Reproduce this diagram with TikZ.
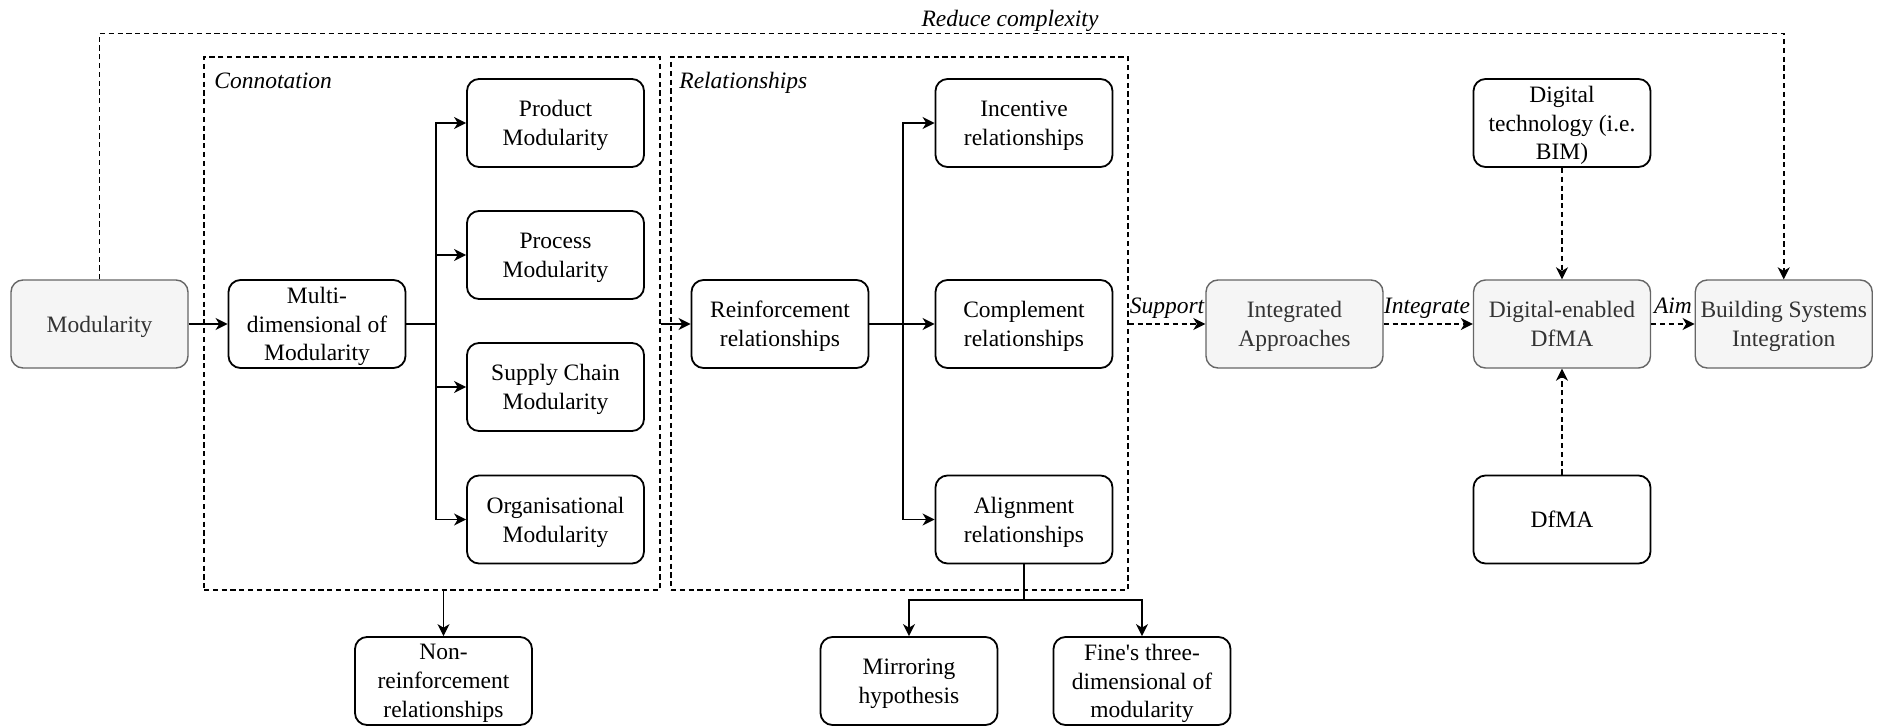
\documentclass[tikz,border=0pt]{standalone}
\usepackage{fontspec}
\setmainfont{Liberation Serif}[Ligatures=TeXOff]
\usetikzlibrary{arrows.meta}
\definecolor{edgegray}{HTML}{666666}
\definecolor{fillgray}{HTML}{F5F5F5}
\definecolor{textgray}{HTML}{333333}

\begin{document}
\begin{tikzpicture}[x=0.5pt,y=-0.5pt,
  font=\rmfamily\fontsize{11.75}{14.4}\selectfont,
  box/.style={draw=black, line width=0.9pt, rounded corners=6pt, align=center,
    minimum width=88.5pt, minimum height=44pt, inner sep=1pt, text depth=0pt},
  graybox/.style={box, draw=edgegray, fill=fillgray, text=textgray, line width=0.7pt},
  group/.style={draw=black, line width=0.7pt, dash pattern=on 2.6pt off 1.8pt,
    minimum height=266.5pt, inner sep=0pt},
  link/.style={draw, line width=0.9pt, -{Stealth[length=6pt,width=6pt,inset=1.8pt]}},
  thinlink/.style={link, line width=0.55pt},
  dlink/.style={link, line width=0.8pt, dash pattern=on 2.6pt off 1.8pt},
  plain/.style={draw, line width=0.9pt},
  tag/.style={font=\rmfamily\fontsize{11.75}{14.4}\selectfont\itshape, inner sep=0pt}
]
\useasboundingbox (0,0) rectangle (1881,728);

% dashed groups
\node[group, minimum width=228pt]   (conn) at (432,323.5) {};
\node[group, minimum width=228.5pt] (rel)  at (899.5,323.5) {};
\node[tag, anchor=base west] (connlbl) at (214,88) {Connotation};
\node[tag, anchor=base west] (rellbl)  at (679,88) {Relationships};

% main chain
\node[graybox] (mod)   at (99.5,324)  {Modularity};
\node[box]     (multi) at (317,324)   {Multi-\\dimensional of\\Modularity};
\node[box]     (prod)  at (555.5,123) {Product\\Modularity};
\node[box]     (proc)  at (555.5,255) {Process\\Modularity};
\node[box]     (supp)  at (555.5,387) {Supply Chain\\Modularity};
\node[box]     (org)   at (555.5,519.5) {Organisational\\Modularity};

\node[box] (reinf) at (780,324)    {Reinforcement\\relationships};
\node[box] (inc)   at (1024,123)   {Incentive\\relationships};
\node[box] (comp)  at (1024,324)   {Complement\\relationships};
\node[box] (align) at (1024,519.5) {Alignment\\relationships};

\node[box] (nonr) at (443.5,681) {Non-\\reinforcement\\relationships};
\node[box] (mirr) at (909,681)   {Mirroring\\hypothesis};
\node[box] (fine) at (1142,681)  {Fine's three-\\dimensional of\\modularity};

\node[graybox] (integ) at (1294.5,324) {Integrated\\Approaches};
\node[graybox] (de)    at (1562,324)   {Digital-enabled\\DfMA};
\node[graybox] (bsi)   at (1783.75,324) {Building Systems\\Integration};
\node[box]     (dig)   at (1562,123)   {Digital\\technology (i.e.\\BIM)};
\node[box]     (dfma)  at (1562,519.5) {DfMA};

% solid connectors
\draw[link] (mod) -- (multi);
\coordinate (mb) at (436,324);
\draw[plain] (multi.east) -- (mb);
\draw[link] (mb) |- (prod.west);
\draw[link] (mb) |- (proc.west);
\draw[link] (mb) |- (supp.west);
\draw[link] (mb) |- (org.west);

\draw[link] (conn.east |- reinf) -- (reinf.west);
\coordinate (rb) at (903,324);
\draw[plain] (reinf.east) -- (rb);
\draw[link] (rb) |- (inc.west);
\draw[link] (rb) -- (comp.west);
\draw[link] (rb) |- (align.west);

\draw[thinlink] (conn.south -| nonr) -- (nonr.north);

\coordinate (ab) at (1024,600);
\draw[plain] (align.south) -- (ab);
\draw[link] (ab) -| (mirr.north);
\draw[link] (ab) -| (fine.north);

% dashed connectors
\draw[dlink] (rel.east |- integ) -- (integ.west);
\draw[dlink] (integ) -- (de);
\draw[dlink] (de) -- (bsi);
\draw[dlink] (dig) -- (de);
\draw[dlink] (dfma) -- (de);
\draw[dlink] (mod.north) -- ++(0,-246) -| (bsi.north);

% connector labels
\node[tag, anchor=base] (lsup) at (1167,313) {Support};
\node[tag, anchor=base] (lint) at (1427,313) {Integrate};
\node[tag, anchor=base] (laim) at (1673,313) {Aim};
\node[tag, anchor=base] (lred) at (1010,26)  {Reduce complexity};
\end{tikzpicture}
\end{document}
